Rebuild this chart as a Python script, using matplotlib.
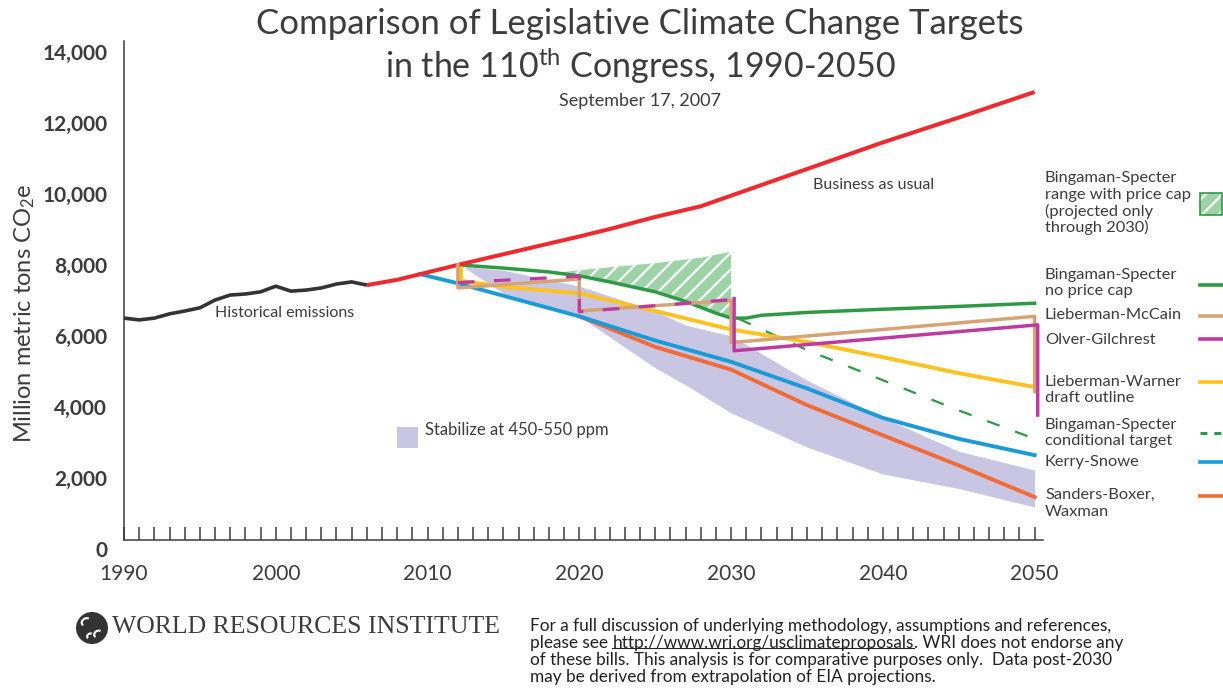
import matplotlib
matplotlib.use('Agg')
import matplotlib.pyplot as plt
import numpy as np
from matplotlib.lines import Line2D
from matplotlib.patches import Rectangle, Circle, Arc
from matplotlib.transforms import ScaledTranslation, IdentityTransform

plt.rcParams['font.family'] = ['Lato', 'DejaVu Sans']
plt.rcParams['mathtext.fontset'] = 'custom'
plt.rcParams['mathtext.rm'] = 'Lato'
plt.rcParams['mathtext.it'] = 'Lato:italic'
plt.rcParams['mathtext.bf'] = 'Lato:bold'
plt.rcParams['hatch.linewidth'] = 1.6
plt.rcParams['lines.scale_dashes'] = False

W, H = 1223, 692
tc = '#3c3c3c'

# million metric tons CO2e
hist_years = [1990, 1991, 1992, 1993, 1994, 1995, 1996, 1997, 1998, 1999,
              2000, 2001, 2002, 2003, 2004, 2005, 2006]
hist_vals = [6250, 6200, 6250, 6370, 6450, 6540, 6760, 6900, 6930, 6990,
             7150, 7010, 7040, 7100, 7210, 7270, 7180]

bau_years = [2006, 2008, 2010, 2012, 2015, 2018, 2020, 2022, 2025, 2028,
             2030, 2035, 2040, 2045, 2050]
bau_vals = [7180, 7330, 7540, 7750, 8050, 8350, 8550, 8760, 9100, 9400,
            9700, 10450, 11200, 11900, 12620]

band_years = [2012.5, 2015, 2020, 2025, 2027, 2030, 2035, 2040, 2045, 2050]
band_high = [7700, 7600, 7150, 6450, 6050, 5750, 4500, 3450, 2500, 1970]
band_low = [7650, 6950, 6300, 4850, 4370, 3580, 2620, 1860, 1450, 930]

cap_years = [2018.5, 2020, 2022, 2025, 2028, 2030]
cap_high = [7530, 7600, 7680, 7800, 7950, 8120]
cap_low = [7530, 7440, 7270, 6990, 6560, 6250]

nocap_years = [2012, 2013, 2015, 2018, 2020, 2022, 2025, 2027, 2029, 2030,
               2031, 2032, 2035, 2040, 2045, 2050]
nocap_vals = [7750, 7720, 7660, 7550, 7440, 7270, 6990, 6720, 6390, 6250,
              6250, 6330, 6410, 6500, 6580, 6670]

cond_years = [2030.5, 2035, 2040, 2045, 2050]
cond_vals = [6230, 5350, 4500, 3650, 2850]

lm_years = [2012, 2012, 2020, 2020, 2030, 2030, 2050, 2050]
lm_vals = [7750, 7100, 7350, 6450, 6750, 5560, 6300, 4180]

og_dash_years = [2012, 2020, 2020, 2030]
og_dash_vals = [7250, 7430, 6430, 6770]
og_years = [2030.2, 2030.2, 2050.2, 2050.2]
og_vals = [6800, 5330, 6060, 3520]

lw_years = [2012.2, 2012.2, 2015, 2020, 2025, 2030, 2035, 2040, 2045, 2050]
lw_vals = [7700, 7300, 7130, 6950, 6450, 5930, 5580, 5150, 4700, 4310]

ks_years = [2009.5, 2012, 2015, 2020, 2025, 2030, 2035, 2040, 2045, 2050]
ks_vals = [7490, 7230, 6880, 6300, 5620, 5020, 4270, 3440, 2850, 2390]

sb_years = [2020, 2025, 2030, 2035, 2040, 2045, 2050]
sb_vals = [6300, 5440, 4800, 3800, 2950, 2100, 1210]

yticks = [0, 2000, 4000, 6000, 8000, 10000, 12000, 14000]
xticks = [1990, 2000, 2010, 2020, 2030, 2040, 2050]

c_red = '#ee2a2e'
c_green = '#2e9a47'
c_hatch = '#9ed3a8'
c_tan = '#d4a476'
c_mag = '#bf3aa0'
c_yel = '#ffc21f'
c_blue = '#1b9ad8'
c_orange = '#f26a35'
c_band = '#c9c6e3'

fig = plt.figure(figsize=(W / 100, H / 100), dpi=100)
ax = fig.add_axes([124 / W, 1 - 540 / H, (1043 - 124) / W, (540 - 41) / H])
ax.set_xlim(1990, 2050.55)
ax.set_ylim(0, 14056)

ax.fill_between(band_years, band_low, band_high, color=c_band, lw=0, zorder=1)
ax.fill_between(cap_years, cap_low, cap_high, facecolor=c_hatch, edgecolor='white',
                hatch='//', lw=0, zorder=2)

ax.plot(bau_years, bau_vals, color=c_red, lw=2.9, zorder=5, solid_capstyle='butt')
ax.plot(hist_years, hist_vals, color='#333333', lw=2.6, zorder=5, solid_capstyle='butt')
ax.plot(nocap_years, nocap_vals, color=c_green, lw=2.5, zorder=4)
ax.plot(cond_years, cond_vals, color=c_green, lw=1.6, dashes=(9.5, 12), zorder=4)
ax.plot(lw_years, lw_vals, color=c_yel, lw=2.8, zorder=4)
ax.plot(sb_years, sb_vals, color=c_orange, lw=2.8, zorder=4)
ax.plot(ks_years, ks_vals, color=c_blue, lw=2.8, zorder=4)
ax.plot(lm_years, lm_vals, color=c_tan, lw=2.5, zorder=6)
ax.plot(og_dash_years, og_dash_vals, color=c_mag, lw=2.3, dashes=(12, 14), zorder=7)
ax.plot(og_years, og_vals, color=c_mag, lw=2.5, zorder=6, clip_on=False)

for s in ['top', 'right']:
    ax.spines[s].set_visible(False)
for s in ['left', 'bottom']:
    ax.spines[s].set_color(tc)
    ax.spines[s].set_linewidth(1.1)

ax.set_xticks(xticks)
ax.set_xticks(np.arange(1991, 2051), minor=True)
ax.set_xticklabels([str(x) for x in xticks])
ax.tick_params(axis='x', which='both', direction='in', length=9.5, width=1.1,
               color=tc, labelsize=15, labelcolor=tc, pad=17)
ax.set_yticks(yticks)
ax.set_yticklabels(['{:,}'.format(v) for v in yticks])
ax.tick_params(axis='y', length=0, labelsize=15, labelcolor=tc, pad=12)
off = ScaledTranslation(0, -9 / 100, fig.dpi_scale_trans)
for lab in ax.get_yticklabels():
    lab.set_transform(lab.get_transform() + off)
    lab.set_fontweight('bold')

ax.text(1996.0, 6390, 'Historical emissions', fontsize=11.5, color=tc, va='center')
ax.text(2035.4, 10000, 'Business as usual', fontsize=11.5, color=tc, va='center')
ax.text(2009.8, 3090, 'Stabilize at 450-550 ppm', fontsize=12, color=tc, va='center')

trans = IdentityTransform()


def P(x, y):
    return x, H - y


# swatch for band label
fig.add_artist(Rectangle(P(397, 448), 21, 21, transform=trans, color=c_band, lw=0))

fig.text(25 / W, 1 - 313 / H, r'Million metric tons CO$_2$e', rotation=90,
         ha='center', va='center', fontsize=17, color=tc)

fig.text(640 / W, 1 - 24 / H, 'Comparison of Legislative Climate Change Targets',
         ha='center', va='center', fontsize=25, color=tc)
fig.text(640 / W, 1 - 66 / H, r'in the 110$^{\mathrm{th}}$ Congress, 1990-2050',
         ha='center', va='center', fontsize=24.5, color=tc)
fig.text(640 / W, 1 - 101 / H, 'September 17, 2007', ha='center', va='center',
         fontsize=13, color=tc)

# right-hand legend
legend_items = [
    (['Bingaman-Specter', 'range with price cap', '(projected only', 'through 2030)'], 178, None),
    (['Bingaman-Specter', 'no price cap'], 275, (c_green, None, 285)),
    (['Lieberman-McCain'], 315, (c_tan, None, 316)),
    (['Olver-Gilchrest'], 340, (c_mag, None, 339)),
    (['Lieberman-Warner', 'draft outline'], 382, (c_yel, None, 382)),
    (['Bingaman-Specter', 'conditional target'], 425, (c_green, (5, 5), 433)),
    (['Kerry-Snowe'], 462, (c_blue, None, 462)),
    (['Sanders-Boxer,', 'Waxman'], 495, (c_orange, None, 496)),
]
for lines, y0, handle in legend_items:
    for i, line in enumerate(lines):
        fig.text(1045 / W, 1 - (y0 + i * 16.5) / H, line, ha='left', va='center',
                 fontsize=11.8, color=tc)
    if handle is not None:
        col, dsh, hy = handle
        ln = Line2D([1200, 1222], [H - hy, H - hy], transform=trans, color=col, lw=2.6)
        if dsh:
            ln.set_dashes(dsh)
            ln.set_linewidth(2.2)
        fig.add_artist(ln)

fig.add_artist(Rectangle(P(1200, 215), 22, 22, transform=trans, facecolor=c_hatch,
                         edgecolor='white', hatch='//', lw=0))
fig.add_artist(Rectangle(P(1200, 215), 22, 22, transform=trans, facecolor='none',
                         edgecolor=c_green, lw=1.2))

# footer
fig.add_artist(Circle(P(92, 628), 16, transform=trans, color='#333333', lw=0))
for a, b, r in [(86, 622, 9), (98, 634, 8), (90, 636, 6)]:
    fig.add_artist(Arc(P(a, b), r, r * 0.8, angle=30, theta1=20, theta2=200,
                       transform=trans, color='white', lw=1.5))
fig.text(112 / W, 1 - 627 / H, 'WORLD RESOURCES INSTITUTE', family=['Liberation Serif', 'DejaVu Serif'],
         fontsize=18.5, color=tc, va='center', ha='left')

fs = 12.4
fc = '#222222'
fig.text(530 / W, 1 - 626 / H,
         'For a full discussion of underlying methodology, assumptions and references,',
         fontsize=fs, color=fc, va='center')
t1 = fig.text(530 / W, 1 - 643 / H, 'please see ', fontsize=fs, color=fc, va='center')
t2 = fig.text(0, 0, 'http://www.wri.org/usclimateproposals', fontsize=fs, color=fc,
              va='center')
t3 = fig.text(0, 0, '. WRI does not endorse any', fontsize=fs, color=fc, va='center')
fig.text(530 / W, 1 - 660 / H,
         'of these bills. This analysis is for comparative purposes only.  Data post-2030',
         fontsize=fs, color=fc, va='center')
fig.text(530 / W, 1 - 677 / H, 'may be derived from extrapolation of EIA projections.',
         fontsize=fs, color=fc, va='center')

fig.canvas.draw()
r = fig.canvas.get_renderer()
b1 = t1.get_window_extent(r)
t2.set_position((b1.x1 / W, 1 - 643 / H))
fig.canvas.draw()
b2 = t2.get_window_extent(r)
t3.set_position((b2.x1 / W, 1 - 643 / H))
fig.add_artist(Line2D([b2.x0, b2.x1], [b2.y0 + 3, b2.y0 + 3], transform=trans,
                      color=fc, lw=0.8))

fig.savefig('out.png', dpi=100)
